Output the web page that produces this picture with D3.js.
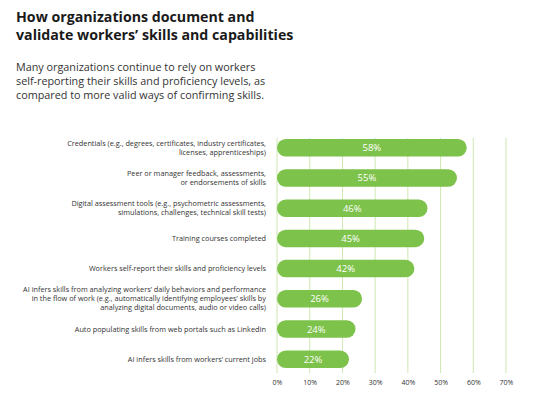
<!DOCTYPE html>
<html><head><meta charset="utf-8">
<script src="https://cdn.jsdelivr.net/npm/d3@7"></script>
<style>body{margin:0;background:#fff}svg{display:block}</style>
</head><body>
<script>
const categories = [
  ["Credentials (e.g., degrees, certificates, industry certificates,", "licenses, apprenticeships)"],
  ["Peer or manager feedback, assessments,", "or endorsements of skills"],
  ["Digital assessment tools (e.g., psychometric assessments,", "simulations, challenges, technical skill tests)"],
  ["Training courses completed"],
  ["Workers self-report their skills and proficiency levels"],
  ["AI infers skills from analyzing workers\u2019 daily behaviors and performance", "in the flow of work (e.g., automatically identifying employees\u2019 skills by", "analyzing digital documents, audio or video calls)"],
  ["Auto populating skills from web portals such as LinkedIn"],
  ["AI infers skills from workers\u2019 current jobs"]
];
const values = [58, 55, 46, 45, 42, 26, 24, 22];
const ticks = [0, 10, 20, 30, 40, 50, 60, 70];
const titleLines = ["How organizations document and", "validate workers\u2019 skills and capabilities"];
const subtitleLines = ["Many organizations continue to rely on workers", "self-reporting their skills and proficiency levels, as", "compared to more valid ways of confirming skills."];

const W = 538, H = 397;
const svg = d3.select("body").append("svg").attr("width", W).attr("height", H);
const font = "'Open Sans', sans-serif";

svg.append("g").selectAll("text").data(titleLines).join("text")
  .attr("x", 16).attr("y", (d, i) => 22 + i * 17.5)
  .attr("font-family", font).attr("font-weight", 700).attr("font-size", 14.2)
  .attr("fill", "#1a1a1a").text(d => d);

svg.append("g").selectAll("text").data(subtitleLines).join("text")
  .attr("x", 16).attr("y", (d, i) => 71 + i * 14)
  .attr("font-family", font).attr("font-size", 10.8)
  .attr("fill", "#333").text(d => d);

const x = d3.scaleLinear().domain([0, 70]).range([277, 506]);
const y = d3.scaleBand().domain(d3.range(values.length)).range([133, 374]).paddingInner(0.42).paddingOuter(0.2);

// gridlines
svg.append("g").selectAll("line").data(ticks).join("line")
  .attr("x1", d => x(d)).attr("x2", d => x(d))
  .attr("y1", 138).attr("y2", 373)
  .attr("stroke", "#cfe7b0").attr("stroke-width", 1);

// axis labels
const axis = d3.axisBottom(x).tickValues(ticks).tickFormat(d => d + "%").tickSize(0).tickPadding(0);
const ag = svg.append("g").attr("transform", "translate(0,385)").call(axis);
ag.select(".domain").remove();
ag.selectAll("text").attr("font-family", font).attr("font-size", 7).attr("fill", "#333").attr("dy", 0);

// bars
const bh = y.bandwidth();
svg.append("g").selectAll("rect").data(values).join("rect")
  .attr("x", x(0)).attr("y", (d, i) => y(i))
  .attr("width", d => x(d) - x(0)).attr("height", bh)
  .attr("rx", bh / 2).attr("fill", "#7dc24a");

svg.append("g").selectAll("text").data(values).join("text")
  .attr("x", d => (x(0) + x(d)) / 2).attr("y", (d, i) => y(i) + bh / 2 + 3.5)
  .attr("text-anchor", "middle").attr("font-family", font)
  .attr("font-size", 9.5).attr("fill", "#fff").text(d => d + "%");

// category labels
const lg = svg.append("g");
categories.forEach((lines, i) => {
  const cy = y(i) + bh / 2;
  const lh = 9;
  const start = cy - (lines.length - 1) * lh / 2 + 2.5;
  lines.forEach((l, j) => {
    lg.append("text").attr("x", 266).attr("y", start + j * lh)
      .attr("text-anchor", "end").attr("font-family", font).attr("font-size", 7.3)
      .attr("fill", "#333").text(l);
  });
});
</script>
</body></html>
